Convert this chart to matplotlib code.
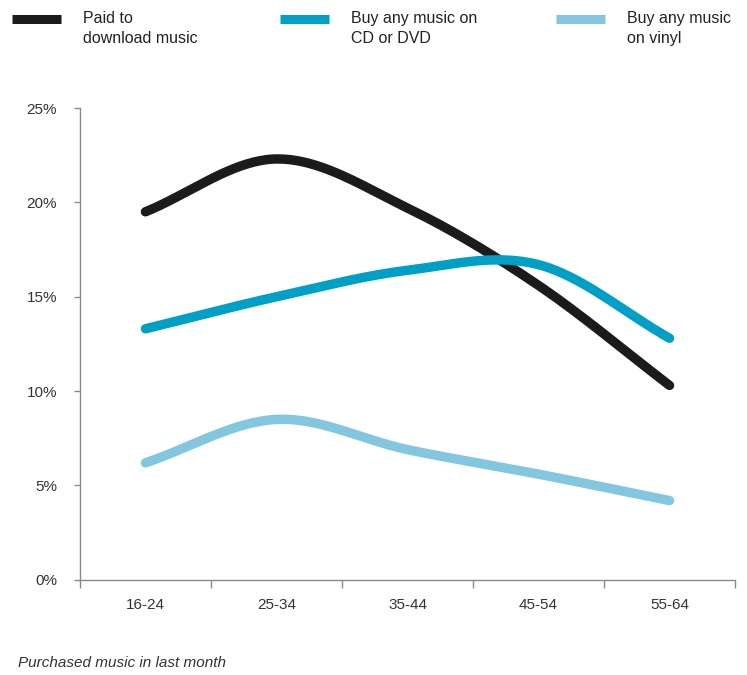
import matplotlib
matplotlib.use("Agg")
import matplotlib.pyplot as plt
import numpy as np
from matplotlib.lines import Line2D

plt.rcParams["font.family"] = ["Liberation Sans", "DejaVu Sans"]

# data (share of each age group, %)
age_groups = ["16-24", "25-34", "35-44", "45-54", "55-64"]
paid_download = [19.5, 22.3, 19.7, 15.6, 10.3]
cd_dvd = [13.3, 15.0, 16.4, 16.7, 12.8]
vinyl = [6.2, 8.5, 6.9, 5.6, 4.2]

series = [
    ("Paid to\ndownload music", paid_download, "#1c1a1b"),
    ("Buy any music on\nCD or DVD", cd_dvd, "#00a0c6"),
    ("Buy any music\non vinyl", vinyl, "#82c6e0"),
]


def smooth(y, n=40):
    """Catmull-Rom curve through the points (drawing only)."""
    y = np.asarray(y, float)
    x = np.arange(len(y), dtype=float)
    px = np.concatenate([[2 * x[0] - x[1]], x, [2 * x[-1] - x[-2]]])
    py = np.concatenate([[2 * y[0] - y[1]], y, [2 * y[-1] - y[-2]]])
    xs, ys = [], []
    nseg = len(px) - 3
    for i in range(1, len(px) - 2):
        last = i == nseg
        t = np.linspace(0, 1, n, endpoint=last)
        for p, out in ((px, xs), (py, ys)):
            p0, p1, p2, p3 = p[i - 1], p[i], p[i + 1], p[i + 2]
            out.append(0.5 * ((2 * p1) + (-p0 + p2) * t
                              + (2 * p0 - 5 * p1 + 4 * p2 - p3) * t ** 2
                              + (-p0 + 3 * p1 - 3 * p2 + p3) * t ** 3))
    return np.concatenate(xs), np.concatenate(ys)


fig = plt.figure(figsize=(7.47, 6.75), dpi=100)
ax = fig.add_axes([0.107, 0.141, 0.877, 0.699])

for label, vals, color in series:
    sx, sy = smooth(vals)
    ax.plot(sx, sy, color=color, lw=6.8, solid_capstyle="round", solid_joinstyle="round")

axis_col = "#8a8a8a"
ax.set_xlim(-0.5, len(age_groups) - 0.5)
ax.set_ylim(0, 25)
ax.set_yticks(np.arange(0, 26, 5))
ax.set_yticklabels([f"{v}%" for v in range(0, 26, 5)])
ax.set_xticks(np.arange(len(age_groups)))
ax.set_xticklabels(age_groups)
ax.set_xticks(np.arange(-0.5, len(age_groups)), minor=True)
ax.tick_params(axis="x", which="major", length=0, pad=13, labelsize=11, labelcolor="#333333")
ax.tick_params(axis="x", which="minor", length=6, width=1, color=axis_col, direction="out")
ax.tick_params(axis="y", length=4.5, width=1, color=axis_col, direction="out", pad=12,
               labelsize=11, labelcolor="#333333")
for side in ("top", "right"):
    ax.spines[side].set_visible(False)
for side in ("left", "bottom"):
    ax.spines[side].set_color(axis_col)
    ax.spines[side].set_linewidth(1)

# legend across the top
leg_x = [0.016, 0.375, 0.744]
for (label, vals, color), x0 in zip(series, leg_x):
    fig.add_artist(Line2D([x0, x0 + 0.066], [0.972, 0.972], transform=fig.transFigure,
                          color=color, lw=6.5, solid_capstyle="butt"))
    fig.text(x0 + 0.095, 0.984, label, ha="left", va="top", fontsize=11.5,
             color="#222222", linespacing=1.45)

fig.text(0.024, 0.008, "Purchased music in last month", ha="left", va="bottom",
         fontsize=11, style="italic", color="#333333")

fig.savefig("out.png", dpi=100)
